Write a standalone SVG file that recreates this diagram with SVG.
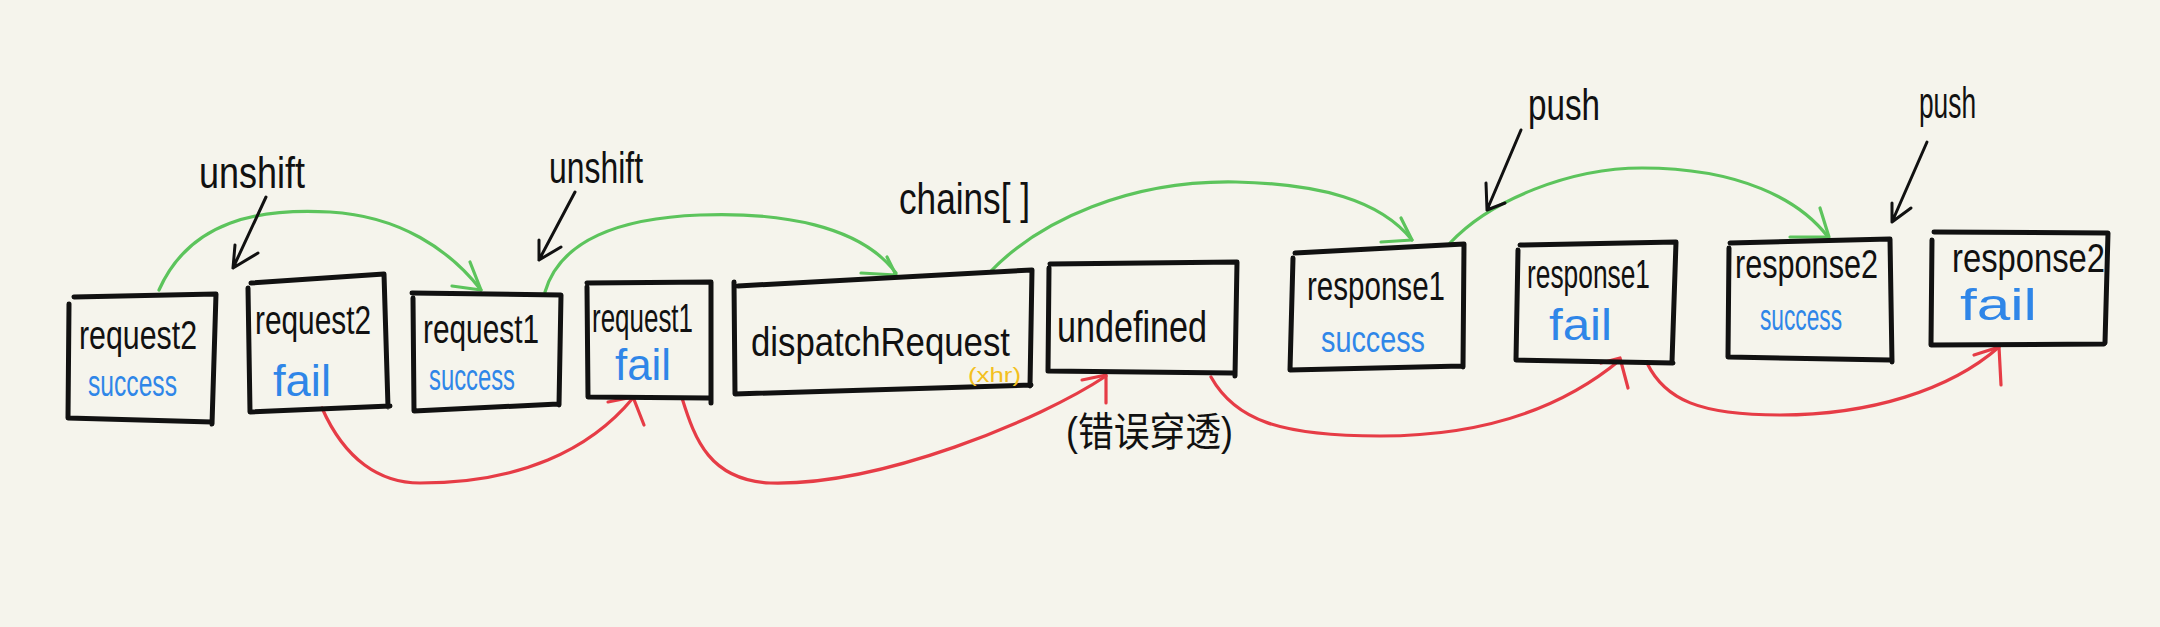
<svg xmlns="http://www.w3.org/2000/svg" width="2160" height="627" viewBox="0 0 2160 627">
<style>
.box{fill:none;stroke:#111;stroke-width:5;stroke-linecap:round;stroke-linejoin:round}
.t{font-family:"Liberation Sans","DejaVu Sans",sans-serif;fill:#111}
.tl{font-size:40px}
.s{font-size:36px;fill:#2f86e8}
.f{font-size:44px;fill:#2f86e8}
.lab{font-family:"Liberation Sans","DejaVu Sans",sans-serif;fill:#111;font-size:44px}
.g{fill:none;stroke:#5cc45c;stroke-width:3.2;stroke-linecap:round;stroke-linejoin:round}
.r{fill:none;stroke:#e63c46;stroke-width:3.2;stroke-linecap:round;stroke-linejoin:round}
.k{fill:none;stroke:#111;stroke-width:3;stroke-linecap:round;stroke-linejoin:round}
</style>
<rect width="2160" height="627" fill="#f5f4ec"/>
<g id="connectors">
<path class="g" d="M159,290 C190,220 260,208 330,212 C400,216 450,250 481,290"/>
<path class="g" d="M470,262 L481,290 L452,286"/>
<path class="g" d="M545,292 C560,240 620,218 700,215 C780,212 860,225 896,273"/>
<path class="g" d="M887,257 L896,275 L861,273"/>
<path class="g" d="M990,272 C1040,220 1130,180 1236,182 C1320,184 1380,200 1412,240"/>
<path class="g" d="M1401,218 L1412,240 L1381,242"/>
<path class="g" d="M1450,243 C1490,200 1570,168 1642,168 C1740,168 1800,200 1828,237"/>
<path class="g" d="M1820,208 L1829,237 L1790,237"/>
<path class="r" d="M322,408 C345,460 380,483 420,483 C520,483 590,450 633,398"/>
<path class="r" d="M608,402 L633,397 L644,425"/>
<path class="r" d="M682,398 C695,440 710,480 770,483 C880,486 1040,420 1106,376"/>
<path class="r" d="M1082,380 L1106,375 L1106,403"/>
<path class="r" d="M1211,377 C1235,420 1280,436 1380,436 C1480,436 1560,410 1620,360"/>
<path class="r" d="M1601,363 L1620,358 L1628,388"/>
<path class="r" d="M1647,363 C1665,400 1700,415 1780,415 C1870,415 1950,390 1999,347"/>
<path class="r" d="M1974,355 L1999,347 L2001,385"/>
<path class="k" d="M266,197 L233,268 M235,245 L233,268 L258,253"/>
<path class="k" d="M575,192 L539,260 M539,240 L539,260 L561,247"/>
<path class="k" d="M1521,130 L1487,210 M1486,183 L1487,210 L1505,203"/>
<path class="k" d="M1927,142 L1892,222 M1892,203 L1892,222 L1911,208"/>
</g>
<g id="n1">
<path class="box" d="M74,297 L216,294 L212,424 M69,304 L68,418 L212,422"/>
<text class="t tl" x="79" y="349" textLength="118" lengthAdjust="spacingAndGlyphs">request2</text>
<text class="t s" x="88" y="396" textLength="89" lengthAdjust="spacingAndGlyphs">success</text>
</g>
<g id="n2">
<path class="box" d="M251,283 L384,274 L388,407 M248,288 L250,412 L390,406"/>
<text class="t tl" x="255" y="334" textLength="116" lengthAdjust="spacingAndGlyphs">request2</text>
<text class="t f" x="273" y="396" textLength="58" lengthAdjust="spacingAndGlyphs">fail</text>
</g>
<g id="n3">
<path class="box" d="M412,293 L561,295 L559,405 M413,298 L414,411 L558,404"/>
<text class="t tl" x="423" y="343" textLength="116" lengthAdjust="spacingAndGlyphs">request1</text>
<text class="t s" x="429" y="390" textLength="86" lengthAdjust="spacingAndGlyphs">success</text>
</g>
<g id="n4">
<path class="box" d="M587,283 L711,282 L711,403 M587,287 L588,397 L709,398"/>
<text class="t tl" x="592" y="332" textLength="101" lengthAdjust="spacingAndGlyphs">request1</text>
<text class="t f" x="615" y="380" textLength="56" lengthAdjust="spacingAndGlyphs">fail</text>
</g>
<g id="n5">
<path class="box" d="M738,286 L1032,270 L1030,386 M734,282 L735,394 L1031,385"/>
<text class="t" font-size="40" x="751" y="356" textLength="259" lengthAdjust="spacingAndGlyphs">dispatchRequest</text>
<text class="t" font-size="20" style="fill:#f3c020" x="968" y="382" textLength="53" lengthAdjust="spacingAndGlyphs">(xhr)</text>
</g>
<g id="n6">
<path class="box" d="M1050,264 L1237,262 L1235,376 M1049,268 L1048,371 L1232,373"/>
<text class="t" font-size="44" x="1057" y="342" textLength="150" lengthAdjust="spacingAndGlyphs">undefined</text>
</g>
<g id="n7">
<path class="box" d="M1295,253 L1464,244 L1463,367 M1293,258 L1290,370 L1462,366"/>
<text class="t tl" x="1307" y="300" textLength="138" lengthAdjust="spacingAndGlyphs">response1</text>
<text class="t s" x="1321" y="352" textLength="104" lengthAdjust="spacingAndGlyphs">success</text>
</g>
<g id="n8">
<path class="box" d="M1520,245 L1676,242 L1672,362 M1518,250 L1516,360 L1673,363"/>
<text class="t tl" x="1527" y="288" textLength="123" lengthAdjust="spacingAndGlyphs">response1</text>
<text class="t f" x="1549" y="340" textLength="63" lengthAdjust="spacingAndGlyphs">fail</text>
</g>
<g id="n9">
<path class="box" d="M1730,243 L1890,239 L1892,362 M1729,248 L1728,357 L1890,360"/>
<text class="t tl" x="1735" y="278" textLength="143" lengthAdjust="spacingAndGlyphs">response2</text>
<text class="t s" x="1760" y="330" textLength="82" lengthAdjust="spacingAndGlyphs">success</text>
</g>
<g id="n10">
<path class="box" d="M1934,232 L2108,233 L2105,343 M1932,240 L1931,345 L2104,344"/>
<text class="t tl" x="1952" y="272" textLength="153" lengthAdjust="spacingAndGlyphs">response2</text>
<text class="t f" x="1960" y="320" textLength="77" lengthAdjust="spacingAndGlyphs">fail</text>
</g>
<g id="labels">
<text class="lab" x="199" y="188" textLength="106" lengthAdjust="spacingAndGlyphs">unshift</text>
<text class="lab" x="549" y="183" textLength="94" lengthAdjust="spacingAndGlyphs">unshift</text>
<text class="lab" x="899" y="214" textLength="131" lengthAdjust="spacingAndGlyphs">chains[ ]</text>
<text class="lab" x="1528" y="120" textLength="72" lengthAdjust="spacingAndGlyphs">push</text>
<text class="lab" x="1919" y="118" textLength="57" lengthAdjust="spacingAndGlyphs">push</text>
<text x="1066" y="446" font-size="40" textLength="167" lengthAdjust="spacingAndGlyphs" style="font-family:'Liberation Sans','Noto Sans CJK SC',sans-serif;fill:#111">(错误穿透)</text>
</g>
</svg>
